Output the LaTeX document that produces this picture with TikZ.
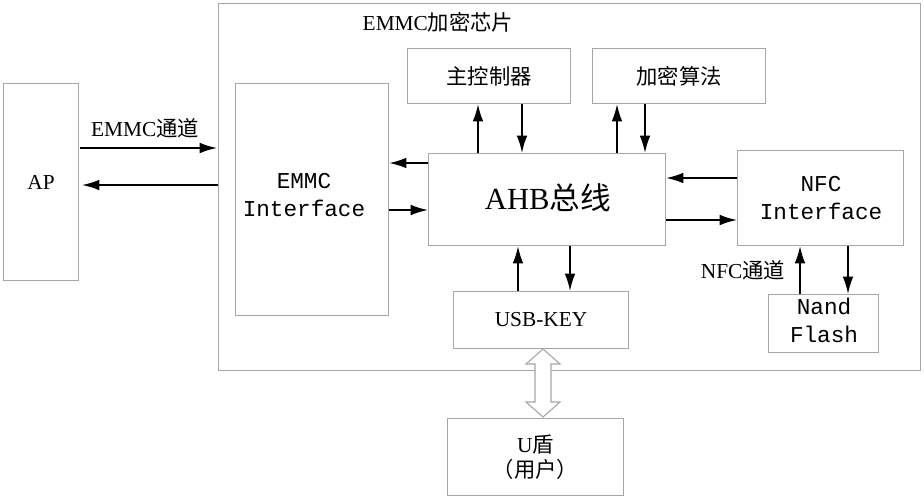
\documentclass[tikz,border=0pt]{standalone}
\usepackage{fontspec}
\setmainfont{Liberation Serif}
\newfontfamily\cjk{Noto Sans CJK SC}
\newfontfamily\mono{Liberation Mono}
\usetikzlibrary{arrows.meta}
\begin{document}
\begin{tikzpicture}[x=0.75pt,y=-0.75pt,
  box/.style={draw=gray!70,line width=0.8pt,inner sep=0},
  ar/.style={-{Latex[length=13pt,width=8pt]},line width=1.3pt},
  t/.style={font=\fontsize{16}{19}\selectfont},
  m/.style={font=\fontsize{17}{21}\selectfont\mono,align=center}]
\useasboundingbox (0,0) rectangle (924,500);
\fill[white] (0,0) rectangle (924,500);
\node[box,minimum width=702*0.75pt,minimum height=367*0.75pt,anchor=north west] (chip) at (218,3) {};
\node[t,anchor=west] (chipl) at (358,22) {EMMC{\cjk 加密芯片}};
\node[box,t,minimum width=75*0.75pt,minimum height=197*0.75pt,anchor=north west] (ap) at (3,83) {AP};
\node[box,minimum width=153*0.75pt,minimum height=232*0.75pt,anchor=north west] (emmc) at (235,83) {};
\node[m] (emmcl) at (304,195) {EMMC\\Interface};
\node[box,t,minimum width=163*0.75pt,minimum height=55*0.75pt,anchor=north west] (ctrl) at (407,48) {\cjk 主控制器};
\node[box,t,minimum width=173*0.75pt,minimum height=55*0.75pt,anchor=north west] (enc) at (592,48) {\cjk 加密算法};
\node[box,minimum width=237*0.75pt,minimum height=92*0.75pt,anchor=north west] (ahb) at (428,153) {};
\node[font=\fontsize{23}{26}\selectfont] (ahbl) at (548,198) {AHB{\cjk 总线}};
\node[box,minimum width=166*0.75pt,minimum height=95*0.75pt,anchor=north west] (nfc) at (737,150) {};
\node[m] (nfcl) at (821,198) {NFC\\Interface};
\node[box,t,minimum width=175*0.75pt,minimum height=57*0.75pt,anchor=north west] (usb) at (453,291) {USB-KEY};
\node[box,minimum width=110*0.75pt,minimum height=58*0.75pt,anchor=north west] (nand) at (768,294) {};
\node[m] (nandl) at (824,320) {Nand\\Flash};
\node[box,t,minimum width=176*0.75pt,minimum height=77*0.75pt,anchor=north west,align=center] (ud) at (447,418) {U{\cjk 盾}\\{\cjk （用户）}};
\node[t] (el) at (145,128) {EMMC{\cjk 通道}};
\node[t] (nl) at (743,270) {NFC{\cjk 通道}};
\coordinate (a1) at (80,148); \coordinate (a2) at (217,148);
\coordinate (b1) at (218,185); \coordinate (b2) at (82,185);
\draw[ar] (a1) -- (a2);
\draw[ar] (b1) -- (b2);
\draw[ar] (ahb.west |- 0,163) -- (emmc.east |- 0,163);
\draw[ar] (emmc.east |- 0,210) -- (ahb.west |- 0,210);
\draw[ar] (ahb.north -| 478,0) -- (ctrl.south -| 478,0);
\draw[ar] (ctrl.south -| 522,0) -- (ahb.north -| 522,0);
\draw[ar] (ahb.north -| 617,0) -- (enc.south -| 617,0);
\draw[ar] (enc.south -| 645,0) -- (ahb.north -| 645,0);
\draw[ar] (nfc.west |- 0,178) -- (ahb.east |- 0,178);
\draw[ar] (ahb.east |- 0,220) -- (nfc.west |- 0,220);
\draw[ar] (usb.north -| 518,0) -- (ahb.south -| 518,0);
\draw[ar] (ahb.south -| 570,0) -- (usb.north -| 570,0);
\draw[ar] (nand.north -| 800,0) -- (nfc.south -| 800,0);
\draw[ar] (nfc.south -| 848,0) -- (nand.north -| 848,0);
\draw[gray!70,line width=0.8pt,fill=white] (543,349) -- (560,364) -- (551,364) -- (551,402) -- (560,402) -- (543,417) -- (526,402) -- (535,402) -- (535,364) -- (526,364) -- cycle;
\end{tikzpicture}
\end{document}
